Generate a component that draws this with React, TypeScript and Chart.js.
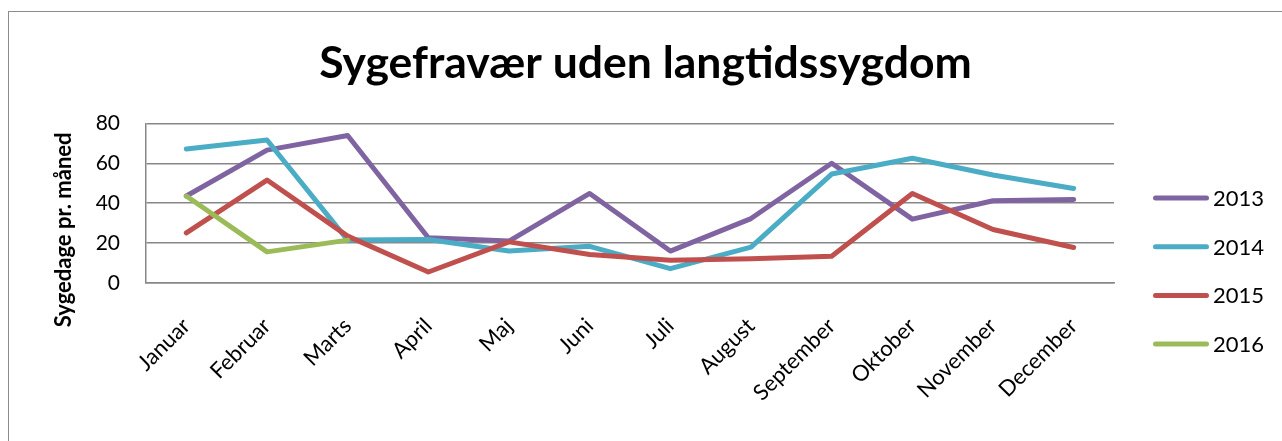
import React, { useEffect, useRef } from 'react';
import { Chart, registerables } from 'chart.js';

Chart.register(...registerables);

const months = ['Januar', 'Februar', 'Marts', 'April', 'Maj', 'Juni', 'Juli', 'August', 'September', 'Oktober', 'November', 'December'];
const years = ['2013', '2014', '2015', '2016'];
const values2013 = [43.6, 66.6, 73.9, 22.7, 21, 44.9, 16, 32.3, 60, 32, 41.2, 41.9];
const values2014 = [67.2, 71.7, 21.5, 21.8, 16, 18.4, 7.2, 18, 54.6, 62.5, 54.1, 47.4];
const values2015 = [25.1, 51.6, 23.5, 5.5, 20.6, 14.3, 11.4, 12.2, 13.4, 44.9, 26.8, 17.8];
const values2016 = [43.6, 15.6, 21.5, null, null, null, null, null, null, null, null, null];
const colors = ['#8064A2', '#4BACC6', '#C0504D', '#9BBB59'];
const yMin = 0;
const yMax = 80;
const yStep = 20;
const chartTitle = 'Sygefravær uden langtidssygdom';
const yAxisTitle = 'Sygedage pr. måned';

const FONT = 'Lato, Carlito, Calibri, "Open Sans", sans-serif';

const sideLegend = {
  id: 'sideLegend',
  afterDraw(chart: any) {
    const ctx = chart.ctx;
    const area = chart.chartArea;
    const ds = chart.data.datasets;
    const x0 = area.right + 39;
    const lineLen = 56;
    const step = 48.7;
    const y0 = area.bottom - 85;
    ctx.save();
    ds.forEach((d: any, i: number) => {
      const y = y0 + i * step;
      ctx.strokeStyle = d.borderColor;
      ctx.lineWidth = 5;
      ctx.lineCap = 'round';
      ctx.beginPath();
      ctx.moveTo(x0 + 2.5, y);
      ctx.lineTo(x0 + lineLen - 2.5, y);
      ctx.stroke();
      ctx.fillStyle = '#000';
      ctx.font = `22px ${FONT}`;
      ctx.textBaseline = 'middle';
      ctx.textAlign = 'left';
      ctx.fillText(d.label, x0 + lineLen + 4, y + 1);
    });
    ctx.restore();
  },
};

const yTitlePlugin = {
  id: 'yTitle',
  afterDraw(chart: any) {
    const ctx = chart.ctx;
    const area = chart.chartArea;
    ctx.save();
    ctx.translate(55, area.top + 9);
    ctx.rotate(-Math.PI / 2);
    ctx.fillStyle = '#000';
    ctx.font = `bold 22px ${FONT}`;
    ctx.textAlign = 'right';
    ctx.textBaseline = 'middle';
    ctx.fillText(yAxisTitle, 0, 0);
    ctx.restore();
  },
};

export default function App() {
  const ref = useRef<HTMLCanvasElement>(null);
  useEffect(() => {
    document.body.style.overflow = 'hidden';
    const seriesValues = [values2013, values2014, values2015, values2016];
    const chart = new Chart(ref.current!, {
      type: 'line',
      data: {
        labels: months,
        datasets: years.map((y, i) => ({
          label: y,
          data: seriesValues[i],
          borderColor: colors[i],
          backgroundColor: colors[i],
          borderWidth: 5,
          pointRadius: 0,
          pointHoverRadius: 0,
          tension: 0,
          fill: false,
          spanGaps: false,
          borderCapStyle: 'round',
          borderJoinStyle: 'round',
          order: years.length - i,
        })),
      },
      options: {
        animation: false,
        responsive: false,
        layout: { padding: 0 },
        plugins: {
          legend: { display: false },
          tooltip: { enabled: false },
          title: {
            display: true,
            text: chartTitle,
            color: '#000',
            font: { family: FONT, size: 44.5, weight: 'bold' },
            padding: { top: 25, bottom: 33 },
          },
        },
        scales: {
          x: {
            offset: true,
            grid: { display: false },
            border: { display: true, color: '#878787', width: 1.5 },
            ticks: {
              color: '#000',
              font: { family: FONT, size: 22 },
              minRotation: 45,
              maxRotation: 45,
              autoSkip: false,
              padding: 22,
            },
            afterFit: (axis: any) => {
              axis.height = 158;
            },
          },
          y: {
            min: yMin,
            max: yMax,
            ticks: {
              stepSize: yStep,
              color: '#000',
              font: { family: FONT, size: 21 },
              padding: 26,
            },
            grid: { color: '#878787', lineWidth: 1.5, drawTicks: false },
            border: { display: true, color: '#878787', width: 1.5 },
            title: { display: false, text: yAxisTitle },
            afterFit: (axis: any) => {
              axis.width = 137;
            },
          },
          legendSpace: {
            position: 'right',
            type: 'linear',
            display: true,
            grid: { display: false },
            border: { display: false },
            ticks: { display: false },
            afterFit: (axis: any) => {
              axis.width = 168;
            },
          },
        },
      },
      plugins: [sideLegend, yTitlePlugin],
    } as any);
    return () => chart.destroy();
  }, []);
  return (
    <div
      style={{
        position: 'absolute',
        left: 8,
        top: 11,
        width: 1273,
        height: 429,
        borderTop: '1px solid #8c8c8c',
        borderLeft: '1px solid #8c8c8c',
        background: '#fff',
      }}
    >
      <canvas ref={ref} width={1273} height={429} style={{ display: 'block' }} />
    </div>
  );
}
